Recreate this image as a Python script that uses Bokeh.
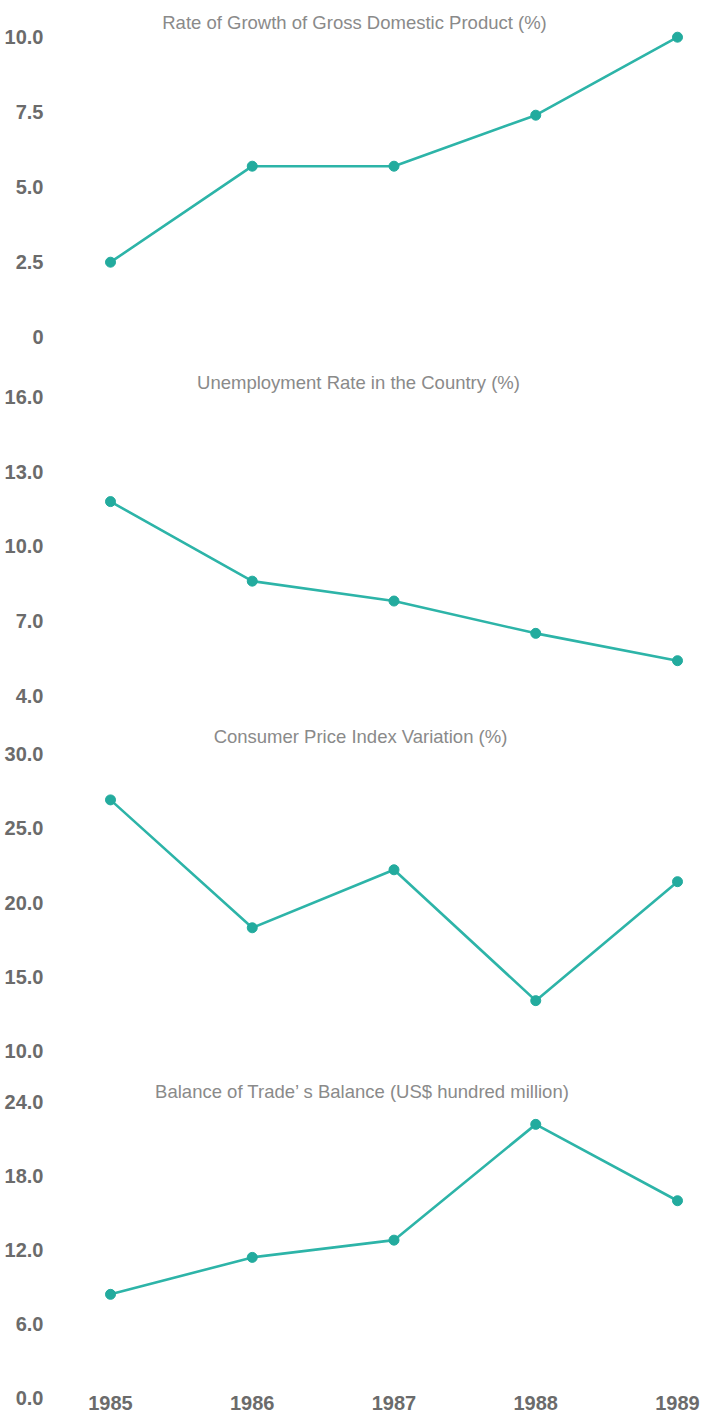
from bokeh.plotting import figure
from bokeh.models import Range1d, FixedTicker, NumeralTickFormatter, Label
from bokeh.layouts import column
from bokeh.embed import file_html
from bokeh.resources import INLINE

# ---------------- data ----------------
years = [1985, 1986, 1987, 1988, 1989]

gdp_growth = [2.5, 5.7, 5.7, 7.4, 10.0]
unemployment = [11.8, 8.6, 7.8, 6.5, 5.4]
cpi_variation = [26.9, 18.3, 22.2, 13.4, 21.4]
trade_balance = [8.4, 11.4, 12.8, 22.2, 16.0]

titles = [
    "Rate of Growth of Gross Domestic Product (%)",
    "Unemployment Rate in the Country (%)",
    "Consumer Price Index Variation (%)",
    "Balance of Trade\u2019 s Balance (US$ hundred million)",
]

gdp_ticks = [0.0, 2.5, 5.0, 7.5, 10.0]
unemployment_ticks = [4.0, 7.0, 10.0, 13.0, 16.0]
cpi_ticks = [10.0, 15.0, 20.0, 25.0, 30.0]
trade_ticks = [0.0, 6.0, 12.0, 18.0, 24.0]

# ---------------- layout (picture pixels) ----------------
FIG_W = 704
FRAME_LEFT, FRAME_RIGHT = 48, 704
X_FIRST_PX, X_LAST_PX = 110, 677

slots = [(0, 360), (360, 715), (715, 1068), (1068, 1418)]
frame_bottoms = [360, 715, 1068, 1406]
# (top tick value, its y, bottom tick value, its y)
anchors = [(10.0, 36.7, 0.0, 336.7),
           (16.0, 396.7, 4.0, 695.0),
           (30.0, 753.3, 10.0, 1050.7),
           (24.0, 1101.7, 0.0, 1397.3)]
title_pos = [(354, 21.7), (358, 381.7), (360, 736.0), (362, 1090.7)]

TEAL = "#2db4a8"
DOT = "#23ab9e"
TICK_FONT = "'Liberation Sans', Arial, sans-serif"
TITLE_FONT = "'Liberation Sans', Arial, sans-serif"
TICK_COLOR = "#6b6b6b"

yr_per_px = (years[-1] - years[0]) / (X_LAST_PX - X_FIRST_PX)


def x_of(px):
    return years[0] + (px - X_FIRST_PX) * yr_per_px


def v_mapper(a):
    v1, y1, v2, y2 = a
    k = (v1 - v2) / (y2 - y1)
    return lambda y: v1 + (y1 - y) * k


series = [gdp_growth, unemployment, cpi_variation, trade_balance]
ticks = [gdp_ticks, unemployment_ticks, cpi_ticks, trade_ticks]

figs = []
for i in range(4):
    top, bottom = slots[i]
    vm = v_mapper(anchors[i])
    last = i == 3
    p = figure(
        width=FIG_W, height=bottom - top,
        output_backend="svg", toolbar_location=None,
        x_range=Range1d(x_of(FRAME_LEFT), x_of(FRAME_RIGHT)),
        y_range=Range1d(vm(frame_bottoms[i]), vm(top)),
        x_axis_location="below" if last else None,
        min_border_left=FRAME_LEFT, min_border_right=FIG_W - FRAME_RIGHT,
        min_border_top=0, min_border_bottom=(bottom - frame_bottoms[i]),
        background_fill_color="white", border_fill_color="white",
        outline_line_color=None,
    )
    p.grid.grid_line_color = None

    yax = p.yaxis[0]
    yax.ticker = FixedTicker(ticks=ticks[i])
    yax.formatter = NumeralTickFormatter(format="0.0")
    if i == 0:
        yax.major_label_overrides = {0: "0"}
    yax.axis_line_color = None
    yax.major_tick_line_color = None
    yax.minor_tick_line_color = None
    yax.major_tick_out = 0
    yax.major_label_standoff = 5
    yax.major_label_text_font = TICK_FONT
    yax.major_label_text_font_size = "20px"
    yax.major_label_text_font_style = "bold"
    yax.major_label_text_color = TICK_COLOR

    if last:
        xax = p.xaxis[0]
        xax.ticker = FixedTicker(ticks=years)
        xax.major_label_overrides = {y: str(y) for y in years}
        xax.axis_line_color = None
        xax.major_tick_line_color = None
        xax.minor_tick_line_color = None
        xax.major_tick_out = 0
        xax.major_label_standoff = -11
        xax.major_label_text_font = TICK_FONT
        xax.major_label_text_font_size = "20px"
        xax.major_label_text_font_style = "bold"
        xax.major_label_text_color = TICK_COLOR

    p.line(years, series[i], line_width=2.6, line_color=TEAL)
    p.scatter(years, series[i], size=10, fill_color=DOT, line_color=DOT)

    tx, ty = title_pos[i]
    p.add_layout(Label(x=x_of(tx), y=vm(ty), text=titles[i],
                       text_align="center", text_baseline="middle",
                       text_font=TITLE_FONT, text_font_size="18.5px",
                       text_color="#8a8a8a"))
    figs.append(p)

layout = column(*figs, spacing=0)
open("out.html", "w").write(file_html(layout, INLINE))
